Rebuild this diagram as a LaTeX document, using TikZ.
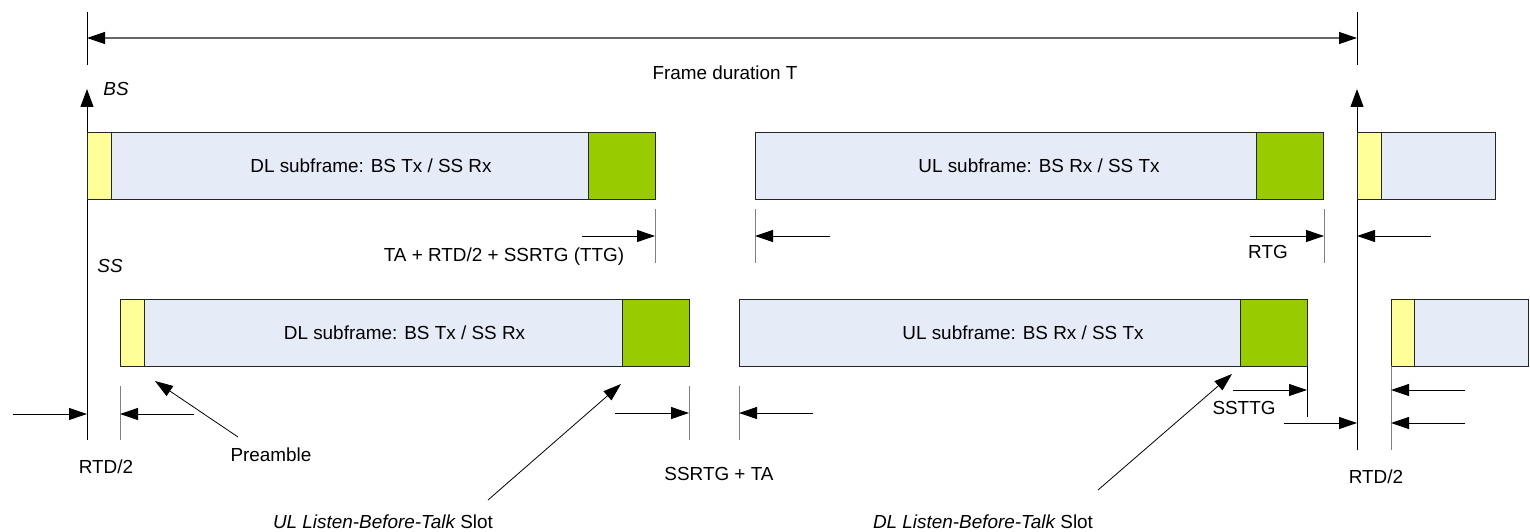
\documentclass[tikz,border=0pt]{standalone}
\usepackage{fontspec}
\setmainfont{Liberation Sans}
\usetikzlibrary{arrows.meta,calc}
\definecolor{precol}{HTML}{FFFF99}
\definecolor{subcol}{HTML}{E6ECF7}
\definecolor{lbtcol}{HTML}{99CC00}
\definecolor{tickcol}{HTML}{808080}
\begin{document}
\begin{tikzpicture}[x=1pt,y=-1pt,
  box/.style={draw=black!85, line width=1pt, anchor=north west, inner sep=0pt, outer sep=0pt, minimum height=67pt},
  lbl/.style={font=\fontsize{18.9}{22}\selectfont, inner sep=0pt},
  axisline/.style={draw=black, line width=1pt},
  axisarrow/.style={draw=black, line width=1pt, -{Triangle[length=18pt,width=13pt]}},
  tickline/.style={draw=tickcol, line width=1pt},
  dimarrow/.style={draw=black, line width=0.9pt, -{Triangle[length=18pt,width=12pt]}},
  framearrow/.style={draw=black!60, line width=1.2pt, {Triangle[length=18pt,width=12pt,color=black]}-{Triangle[length=18pt,width=12pt,color=black]}},
  callout/.style={draw=black, line width=0.8pt, -{Triangle[length=18pt,width=12pt]}}
]
\useasboundingbox (0,0) rectangle (1530,532);

% ---------- frame duration ----------
\coordinate (ft1a) at (87,12);  \coordinate (ft1b) at (87,65);
\coordinate (ft2a) at (1357,12); \coordinate (ft2b) at (1357,65);
\draw[axisline] (ft1a) -- (ft1b);
\draw[axisline] (ft2a) -- (ft2b);
\coordinate (fl) at (87,38); \coordinate (fr) at (1357,38);
\draw[framearrow] (fl) -- (fr);
\node[lbl] (ftext) at (725,73) {Frame duration T};

% ---------- BS axes ----------
\coordinate (bsaxL0) at (87,440); \coordinate (bsaxL1) at (87,89);
\draw[axisarrow] (bsaxL0) -- (bsaxL1);
\coordinate (bsaxR0) at (1357,450); \coordinate (bsaxR1) at (1357,89);
\draw[axisarrow] (bsaxR0) -- (bsaxR1);
\node[lbl, font=\fontsize{18.9}{22}\selectfont\itshape] (bslbl) at (116,89) {BS};
\node[lbl, font=\fontsize{18.9}{22}\selectfont\itshape] (sslbl) at (110,266) {SS};

% ---------- BS row ----------
\node[box, fill=precol, minimum width=24pt] (bpre) at (87,132) {};
\node[box, fill=subcol, minimum width=477pt] (bdl) at (111,132) {};
\node[box, fill=lbtcol, minimum width=67pt] (bdlg) at (588,132) {};
\node[lbl] (bdltext) at ($(bpre.west)!0.5!(bdlg.east)$) {DL subframe: BS Tx / SS Rx};

\node[box, fill=subcol, minimum width=501pt] (bul) at (755,132) {};
\node[box, fill=lbtcol, minimum width=67pt] (bulg) at (1256,132) {};
\node[lbl] (bultext) at ($(bul.west)!0.5!(bulg.east)$) {UL subframe: BS Rx / SS Tx};

\node[box, fill=precol, minimum width=24pt] (bpre2) at (1357,132) {};
\node[box, fill=subcol, minimum width=114pt] (bdl2) at (1381,132) {};

% ---------- SS row ----------
\node[box, fill=precol, minimum width=24pt] (spre) at (120,299) {};
\node[box, fill=subcol, minimum width=478pt] (sdl) at (144,299) {};
\node[box, fill=lbtcol, minimum width=67pt] (sdlg) at (622,299) {};
\node[lbl] (sdltext) at ($(spre.west)!0.5!(sdlg.east)$) {DL subframe: BS Tx / SS Rx};

\node[box, fill=subcol, minimum width=501pt] (sul) at (739,299) {};
\node[box, fill=lbtcol, minimum width=67pt] (sulg) at (1240,299) {};
\node[lbl] (sultext) at ($(sul.west)!0.5!(sulg.east)$) {UL subframe: BS Rx / SS Tx};

\node[box, fill=precol, minimum width=23pt] (spre2) at (1391,299) {};
\node[box, fill=subcol, minimum width=114pt] (sdl2) at (1414,299) {};

% ---------- TTG / RTG dimensions (BS row) ----------
\coordinate (t1a) at (655,209); \coordinate (t1b) at (655,263);
\coordinate (t2a) at (755,209); \coordinate (t2b) at (755,263);
\coordinate (t3a) at (1324,209); \coordinate (t3b) at (1324,263);
\draw[tickline] (t1a) -- (t1b);
\draw[tickline] (t2a) -- (t2b);
\draw[tickline] (t3a) -- (t3b);
\coordinate (a1s) at (582,236); \coordinate (a1e) at (655,236);
\coordinate (a2s) at (830,236); \coordinate (a2e) at (755,236);
\coordinate (a3s) at (1250,236); \coordinate (a3e) at (1324,236);
\coordinate (a4s) at (1431,236); \coordinate (a4e) at (1357,236);
\draw[dimarrow] (a1s) -- (a1e);
\draw[dimarrow] (a2s) -- (a2e);
\draw[dimarrow] (a3s) -- (a3e);
\draw[dimarrow] (a4s) -- (a4e);
\node[lbl] (ttgtext) at (504,257) {TA + RTD/2 + SSRTG (TTG)};
\node[lbl] (rtgtext) at (1268,252) {RTG};

% ---------- SS row dimensions ----------
\coordinate (r1s) at (13,414); \coordinate (r1e) at (87,414);
\draw[dimarrow] (r1s) -- (r1e);
\coordinate (t4a) at (120,386); \coordinate (t4b) at (120,440);
\draw[tickline] (t4a) -- (t4b);
\coordinate (r2s) at (194,414); \coordinate (r2e) at (120,414);
\draw[dimarrow] (r2s) -- (r2e);
\node[lbl] (rtd1) at (106,467) {RTD/2};

\coordinate (pa) at (238,437); \coordinate (pb) at (155,381);
\draw[callout] (pa) -- (pb);
\node[lbl] (pretext) at (271,455) {Preamble};

\coordinate (ula) at (488,500); \coordinate (ulb) at (621,384);
\draw[callout] (ula) -- (ulb);
\node[lbl] (ultext) at (383,522) {\itshape UL Listen-Before-Talk\upshape\ Slot};

\coordinate (t5a) at (689,386); \coordinate (t5b) at (689,440);
\coordinate (t6a) at (739,386); \coordinate (t6b) at (739,440);
\draw[tickline] (t5a) -- (t5b);
\draw[tickline] (t6a) -- (t6b);
\coordinate (s1s) at (615,413); \coordinate (s1e) at (689,413);
\coordinate (s2s) at (813,413); \coordinate (s2e) at (739,413);
\draw[dimarrow] (s1s) -- (s1e);
\draw[dimarrow] (s2s) -- (s2e);
\node[lbl] (ssrtgtext) at (719,474) {SSRTG + TA};

\coordinate (dla) at (1098,490); \coordinate (dlb) at (1232,374);
\draw[callout] (dla) -- (dlb);
\node[lbl] (dltext) at (983,522) {\itshape DL Listen-Before-Talk\upshape\ Slot};

\coordinate (t7a) at (1307,366); \coordinate (t7b) at (1307,417);
\draw[axisline] (t7a) -- (t7b);
\coordinate (u1s) at (1233,390); \coordinate (u1e) at (1307,390);
\draw[dimarrow] (u1s) -- (u1e);
\node[lbl] (ssttgtext) at (1244,408) {SSTTG};

\coordinate (u2s) at (1284,423); \coordinate (u2e) at (1357,423);
\draw[dimarrow] (u2s) -- (u2e);

\coordinate (t8a) at (1391,366); \coordinate (t8b) at (1391,450);
\draw[tickline] (t8a) -- (t8b);
\coordinate (u3s) at (1465,390); \coordinate (u3e) at (1391,390);
\coordinate (u4s) at (1465,423); \coordinate (u4e) at (1391,423);
\draw[dimarrow] (u3s) -- (u3e);
\draw[dimarrow] (u4s) -- (u4e);
\node[lbl] (rtd2) at (1376,477) {RTD/2};
\end{tikzpicture}
\end{document}
